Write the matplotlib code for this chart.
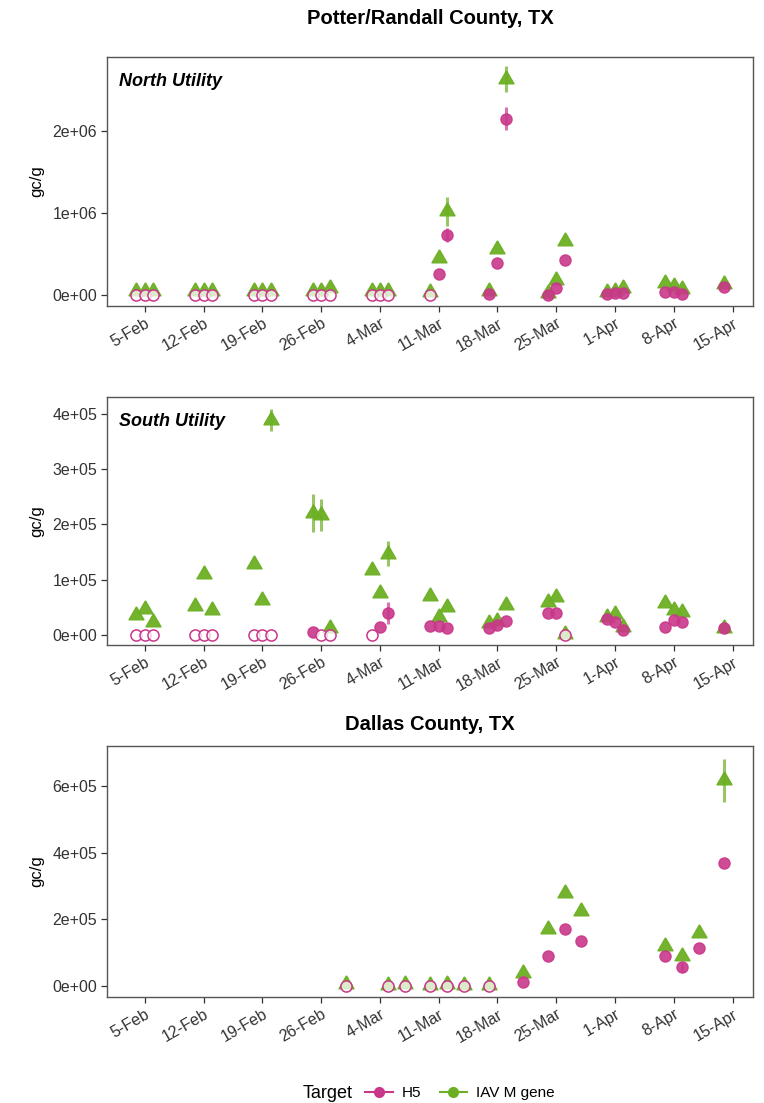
import numpy as np
import pandas as pd
import matplotlib
matplotlib.use("Agg")
import matplotlib.pyplot as plt
from matplotlib.lines import Line2D

plt.rcParams['font.family'] = ['Liberation Sans', 'DejaVu Sans']

PINK = "#C9378A"
GREEN = "#6CAF23"

# ---- North Utility (Potter/Randall) ----
north_dates = ["2024-02-04", "2024-02-05", "2024-02-06", "2024-02-11", "2024-02-12", "2024-02-13",
               "2024-02-18", "2024-02-19", "2024-02-20", "2024-02-25", "2024-02-26", "2024-02-27",
               "2024-03-03", "2024-03-04", "2024-03-05", "2024-03-10", "2024-03-11", "2024-03-12",
               "2024-03-17", "2024-03-18", "2024-03-19", "2024-03-24", "2024-03-25", "2024-03-26",
               "2024-03-31", "2024-04-01", "2024-04-02", "2024-04-07", "2024-04-08", "2024-04-09",
               "2024-04-14"]
north_h5 = [0, 0, 0, 0, 0, 0, 0, 0, 0, 0, 0, 0, 0, 0, 0, 0, 2.6e5, 7.3e5,
            1.0e4, 3.9e5, 2.15e6, 5.0e3, 9.0e4, 4.3e5, 1.0e4, 2.0e4, 3.0e4, 4.0e4, 3.5e4, 1.5e4, 1.0e5]
north_h5_err = [0] * 17 + [9e4, 0, 0, 1.4e5] + [0] * 10
north_h5_det = [False] * 16 + [True] * 15
north_iav = [5e4, 5e4, 5e4, 5e4, 5e4, 5e4, 5e4, 5e4, 5e4, 5e4, 5e4, 8e4, 5e4, 5e4, 5e4, 4e4, 4.5e5, 1.02e6,
             5e4, 5.6e5, 2.63e6, 3e4, 1.8e5, 6.6e5, 4e4, 5e4, 9e4, 1.5e5, 1.1e5, 7e4, 1.3e5]
north_iav_err = [0] * 17 + [1.8e5, 0, 0, 1.6e5] + [0] * 10

# ---- South Utility (Potter/Randall) ----
south_dates = north_dates
south_h5 = [0, 0, 0, 0, 0, 0, 0, 0, 0, 6e3, 0, 0, 0, 1.5e4, 4.0e4, 1.7e4, 1.7e4, 1.2e4,
            1.2e4, 1.9e4, 2.5e4, 4.0e4, 3.9e4, 0, 2.9e4, 2.4e4, 9e3, 1.4e4, 2.7e4, 2.4e4, 1.2e4]
south_h5_err = [0] * 14 + [2e4] + [0] * 16
south_h5_det = [False] * 9 + [True, False, False, False, True, True, True, True, True,
                              True, True, True, True, True, False, True, True, True, True, True, True, True]
south_iav = [3.6e4, 4.8e4, 2.4e4, 5.2e4, 1.1e5, 4.5e4, 1.29e5, 6.3e4, 3.89e5, 2.21e5, 2.17e5, 1.2e4,
             1.17e5, 7.6e4, 1.47e5, 7.0e4, 3.3e4, 5.1e4, 2.1e4, 2.5e4, 5.4e4, 6.0e4, 6.9e4, 2e3,
             3.3e4, 3.8e4, 1.5e4, 5.8e4, 4.6e4, 4.2e4, 1.3e4]
south_iav_err = [0] * 8 + [2e4, 3.4e4, 2.9e4, 0, 0, 0, 2.3e4] + [0] * 16

# ---- Dallas County ----
dallas_dates = ["2024-02-29", "2024-03-05", "2024-03-07", "2024-03-10", "2024-03-12", "2024-03-14",
                "2024-03-17", "2024-03-21", "2024-03-24", "2024-03-26", "2024-03-28", "2024-04-07",
                "2024-04-09", "2024-04-11", "2024-04-14"]
dallas_h5 = [0, 0, 0, 0, 0, 0, 0, 1.3e4, 9.0e4, 1.7e5, 1.35e5, 9.0e4, 5.8e4, 1.15e5, 3.68e5]
dallas_h5_err = [0] * 12 + [1.5e4, 0, 0]
dallas_h5_det = [False] * 7 + [True] * 8
dallas_iav = [5e3, 2e3, 5e3, 2e3, 5e3, 2e3, 2e3, 3.8e4, 1.7e5, 2.78e5, 2.25e5, 1.2e5, 9.0e4, 1.6e5, 6.17e5]
dallas_iav_err = [0] * 14 + [6.5e4]

week_ticks = ["2024-02-05", "2024-02-12", "2024-02-19", "2024-02-26", "2024-03-04", "2024-03-11",
              "2024-03-18", "2024-03-25", "2024-04-01", "2024-04-08", "2024-04-15"]
week_labels = ["5-Feb", "12-Feb", "19-Feb", "26-Feb", "4-Mar", "11-Mar",
               "18-Mar", "25-Mar", "1-Apr", "8-Apr", "15-Apr"]

north_yticks = [0, 1e6, 2e6]
north_ylabels = ["0e+00", "1e+06", "2e+06"]
south_yticks = [0, 1e5, 2e5, 3e5, 4e5]
south_ylabels = ["0e+00", "1e+05", "2e+05", "3e+05", "4e+05"]
dallas_yticks = [0, 2e5, 4e5, 6e5]
dallas_ylabels = ["0e+00", "2e+05", "4e+05", "6e+05"]

# triangle centred on its centroid (like R pch 17)
TRI = [(0, 1), (-0.866, -0.5), (0.866, -0.5), (0, 1)]


def draw_panel(ax, dates, h5, h5_err, h5_det, iav, iav_err, yticks, ylabels, ylim):
    x = pd.to_datetime(dates)
    h5 = np.array(h5)
    det = np.array(h5_det)
    ax.errorbar(x, iav, yerr=iav_err, fmt='none', ecolor=GREEN, elinewidth=2.2, alpha=0.7, zorder=2)
    ax.plot(x, iav, linestyle='none', marker=TRI, ms=12.5, color=GREEN, mec=GREEN, alpha=0.95, zorder=3)
    ax.errorbar(x, h5, yerr=h5_err, fmt='none', ecolor=PINK, elinewidth=2.2, alpha=0.7, zorder=4)
    ax.plot(x[det], h5[det], linestyle='none', marker='o', ms=8, color=PINK, mec=PINK, alpha=0.9, zorder=5)
    ax.plot(x[~det], h5[~det], linestyle='none', marker='o', ms=8, mfc=(1, 1, 1, 0.75), mec=PINK,
            mew=1.1, zorder=5)

    ax.set_xlim(pd.Timestamp("2024-01-31 12:00"), pd.Timestamp("2024-04-17 10:00"))
    ax.set_ylim(*ylim)
    ax.set_xticks(pd.to_datetime(week_ticks))
    ax.set_xticklabels(week_labels, rotation=30, ha='right', rotation_mode='anchor', fontsize=11.5,
                       color="#333333")
    ax.set_yticks(yticks)
    ax.set_yticklabels(ylabels, fontsize=11.5, color="#333333")
    ax.tick_params(direction='out', length=4, width=0.9, color="#333333", pad=3)
    ax.set_ylabel("gc/g", fontsize=12, labelpad=6)
    for s in ax.spines.values():
        s.set_color("#555555")
        s.set_linewidth(1.0)


fig = plt.figure(figsize=(7.64, 11.03), dpi=100)
ax1 = fig.add_axes([0.140, 0.7226, 0.8455, 0.2257])
ax2 = fig.add_axes([0.140, 0.4152, 0.8455, 0.2248])
ax3 = fig.add_axes([0.140, 0.0961, 0.8455, 0.2276])

draw_panel(ax1, north_dates, north_h5, north_h5_err, north_h5_det, north_iav, north_iav_err,
           north_yticks, north_ylabels, (-1.34e5, 2.9e6))
draw_panel(ax2, south_dates, south_h5, south_h5_err, south_h5_det, south_iav, south_iav_err,
           south_yticks, south_ylabels, (-1.8e4, 4.3e5))
draw_panel(ax3, dallas_dates, dallas_h5, dallas_h5_err, dallas_h5_det, dallas_iav, dallas_iav_err,
           dallas_yticks, dallas_ylabels, (-3.3e4, 7.2e5))

ax1.text(0.018, 0.9, "North Utility", transform=ax1.transAxes, fontsize=13, fontweight='bold',
         fontstyle='italic', va='center', ha='left')
ax2.text(0.018, 0.9, "South Utility", transform=ax2.transAxes, fontsize=13, fontweight='bold',
         fontstyle='italic', va='center', ha='left')

fig.text(0.563, 1 - 18 / 1103, "Potter/Randall County, TX", fontsize=14.5, fontweight='bold',
         ha='center', va='center')
fig.text(0.563, 1 - 725 / 1103, "Dallas County, TX", fontsize=14.5, fontweight='bold',
         ha='center', va='center')

handles = [Line2D([0], [0], color=PINK, marker='o', ms=7, lw=1.5),
           Line2D([0], [0], color=GREEN, marker='o', ms=7, lw=1.5)]
fig.text(303 / 764, 1 - 1093 / 1103, "Target", fontsize=13, ha='left', va='center')
fig.legend(handles, ["H5", "IAV M gene"], ncol=2, frameon=False, loc='center',
           bbox_to_anchor=(460 / 764, 1 - 1093 / 1103), fontsize=11, handlelength=1.8,
           columnspacing=1.2, handletextpad=0.6)

fig.savefig("out.png", dpi=100)
